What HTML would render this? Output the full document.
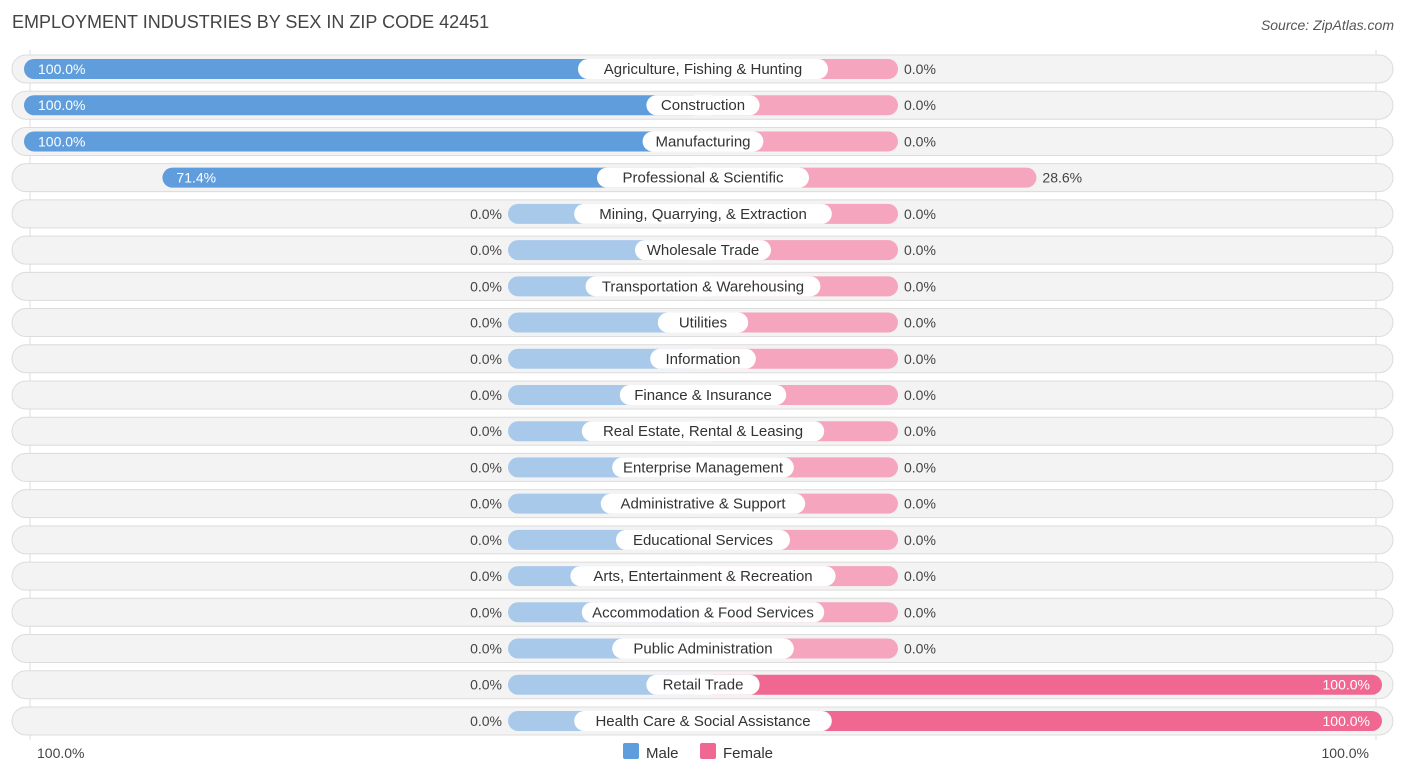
<!DOCTYPE html>
<html><head><meta charset="utf-8"><style>
body{margin:0;background:#fff;font-family:"Liberation Sans",sans-serif;}
svg text{font-family:"Liberation Sans",sans-serif;}
</style></head><body>
<svg id="chart" width="1406" height="776" xmlns="http://www.w3.org/2000/svg">
<text x="12" y="28" font-size="18" fill="#444">EMPLOYMENT INDUSTRIES BY SEX IN ZIP CODE 42451</text>
<text x="1394" y="30" font-size="14" fill="#555" text-anchor="end" font-style="italic">Source: ZipAtlas.com</text>
<line x1="30" y1="50" x2="30" y2="740" stroke="#ddd"/>
<line x1="1376" y1="50" x2="1376" y2="740" stroke="#ddd"/>
<g id="rows"></g>
<text x="37" y="758" font-size="14" fill="#444">100.0%</text>
<text x="1369" y="758" font-size="14" fill="#444" text-anchor="end">100.0%</text>
<g><rect x="623" y="743" width="16" height="16" rx="2" fill="#5f9ddc"/><text x="646" y="758" font-size="15" fill="#333">Male</text></g>
<g><rect x="700" y="743" width="16" height="16" rx="2" fill="#f06892"/><text x="723" y="758" font-size="15" fill="#333">Female</text></g>
</svg>
<script>
const categories=["Agriculture, Fishing & Hunting","Construction","Manufacturing","Professional & Scientific","Mining, Quarrying, & Extraction","Wholesale Trade","Transportation & Warehousing","Utilities","Information","Finance & Insurance","Real Estate, Rental & Leasing","Enterprise Management","Administrative & Support","Educational Services","Arts, Entertainment & Recreation","Accommodation & Food Services","Public Administration","Retail Trade","Health Care & Social Assistance"];
const maleValues=[100,100,100,71.4,0,0,0,0,0,0,0,0,0,0,0,0,0,0,0];
const femaleValues=[0,0,0,28.6,0,0,0,0,0,0,0,0,0,0,0,0,0,0,100];
femaleValues[17]=100;
const NS="http://www.w3.org/2000/svg";
const g=document.getElementById('rows');
const cx=703,stub=195,full=679;
function len(v){return stub+v/100*(full-stub);}
function rowY(i){return 69+i*36.22;}
function mk(tag,attrs,parent){const e=document.createElementNS(NS,tag);for(const k in attrs)e.setAttribute(k,attrs[k]);parent.appendChild(e);return e;}
categories.forEach((c,i)=>{
  const y=rowY(i);
  const row=mk('g',{},g);
  
  
  const bg=mk('rect',{x:12,y:y-14,width:1381,height:28,rx:14,fill:'#f3f3f3',stroke:'#dcdcdc','stroke-width':1},row);
  
  
  const m=maleValues[i],f=femaleValues[i];
  const ml=len(m),fl=len(f);
  const mb=mk('rect',{x:cx-ml,y:y-10,width:ml,height:20,rx:10,fill:m>0?'#5f9ddc':'#a9c9eb'},row);
  
  
  const fb=mk('rect',{x:cx,y:y-10,width:fl,height:20,rx:10,fill:f>=100?'#f06892':'#f5a5be'},row);
  
  
  const tw=c.length*7.6+22;
  const lb=mk('rect',{x:cx-tw/2,y:y-10,width:tw,height:20,rx:10,fill:'#fff'},row);
  
  
  const t=mk('text',{x:cx,y:y+5,'font-size':15,fill:'#333','text-anchor':'middle'},row);
  t.textContent=c;
  
  
  const mt=mk('text',{'font-size':14,y:y+5},row);
  if(m>=50){mt.setAttribute('x',cx-ml+14);mt.setAttribute('fill','#fff');}
  else{mt.setAttribute('x',cx-ml-6);mt.setAttribute('text-anchor','end');mt.setAttribute('fill','#444');}
  mt.textContent=m.toFixed(1)+'%';
  
  
  const ft=mk('text',{'font-size':14,y:y+5},row);
  if(f>=50){ft.setAttribute('x',cx+fl-12);ft.setAttribute('text-anchor','end');ft.setAttribute('fill','#fff');}
  else{ft.setAttribute('x',cx+fl+6);ft.setAttribute('fill','#444');}
  ft.textContent=f.toFixed(1)+'%';
  
  
});
</script>
</body></html>
